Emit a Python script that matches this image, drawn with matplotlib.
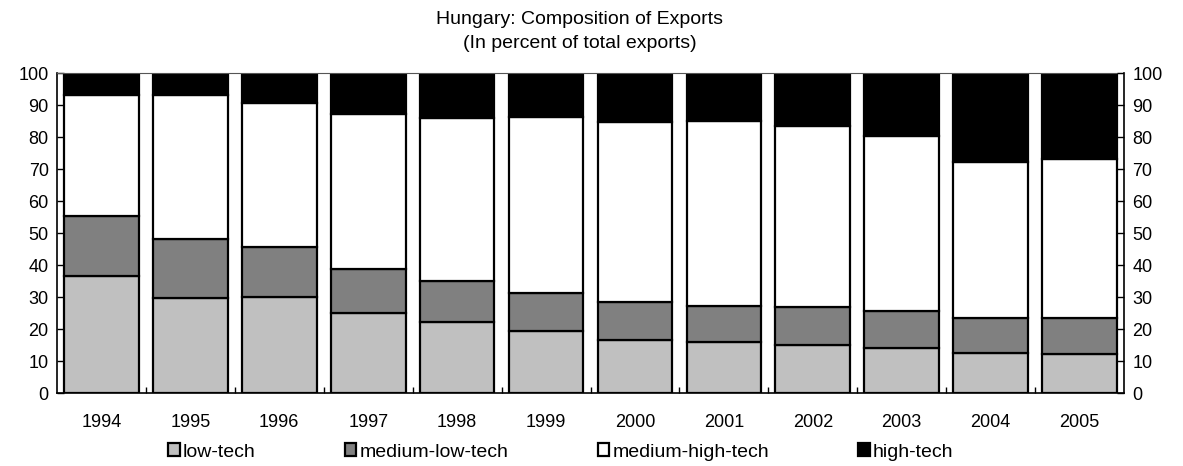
import numpy as np
import matplotlib
matplotlib.use('Agg')
import matplotlib.pyplot as plt

plt.rcParams['font.family'] = ['Liberation Sans', 'DejaVu Sans']

# Veriler (toplam ihracat içindeki pay, %)
years = ['1994', '1995', '1996', '1997', '1998', '1999',
         '2000', '2001', '2002', '2003', '2004', '2005']
low_tech = [36.5, 29.7, 30.1, 24.9, 22.1, 19.4, 16.7, 15.9, 15.1, 14.0, 12.4, 12.3]
medium_low_tech = [18.7, 18.4, 15.5, 14.0, 12.9, 11.9, 11.8, 11.2, 11.9, 11.6, 11.0, 11.2]
medium_high_tech = [37.8, 45.1, 45.0, 48.2, 50.9, 54.8, 56.1, 57.8, 56.3, 54.7, 48.8, 49.6]
high_tech = [7.0, 6.8, 9.4, 12.9, 14.1, 13.9, 15.4, 15.1, 16.7, 19.7, 27.8, 26.9]

series = [
    ('low-tech', low_tech, '#c0c0c0'),
    ('medium-low-tech', medium_low_tech, '#808080'),
    ('medium-high-tech', medium_high_tech, '#ffffff'),
    ('high-tech', high_tech, '#000000'),
]

fig = plt.figure(figsize=(11.83, 4.66), dpi=100)
ax = fig.add_axes([57 / 1183, 1 - 393 / 466, (1124 - 57) / 1183, (393 - 73) / 466])

x = np.arange(len(years))
bottom = np.zeros(len(years))
for name, vals, color in series:
    vals = np.array(vals)
    ax.bar(x, vals, width=0.84, bottom=bottom, color=color,
           edgecolor='black', linewidth=1.6, label=name)
    bottom += vals

ax.set_xlim(-0.5, len(years) - 0.5)
ax.set_ylim(0, 100)
ax.set_yticks(np.arange(0, 101, 10))
ax.set_xticks(x)
ax.set_xticklabels(years)
ax.set_xticks(x[:-1] + 0.5, minor=True)
ax.tick_params(axis='x', which='major', length=0, pad=15, labelsize=13)
ax.tick_params(axis='x', which='minor', direction='in', length=4, width=1)
ax.tick_params(axis='y', direction='in', length=5, width=1, labelsize=13, pad=6)
for s in ax.spines.values():
    s.set_linewidth(1.2)
ax.spines['top'].set_linewidth(0.8)
ax.spines['top'].set_color('#555555')

ax2 = ax.twinx()
ax2.set_ylim(0, 100)
ax2.set_yticks(np.arange(0, 101, 10))
ax2.tick_params(axis='y', direction='in', length=5, width=1, labelsize=13, pad=6)
for s in ax2.spines.values():
    s.set_visible(False)

fig.text(0.49, 1 - 20 / 466, 'Hungary: Composition of Exports', ha='center', va='center', fontsize=14)
fig.text(0.49, 1 - 44 / 466, '(In percent of total exports)', ha='center', va='center', fontsize=14)

fig.legend(loc='center', bbox_to_anchor=(0.474, 1 - 452 / 466), ncol=4, frameon=False,
           fontsize=14, handlelength=0.6, handleheight=0.6, handletextpad=0.15,
           columnspacing=4.6, borderaxespad=0)

fig.savefig('out.png', dpi=100)
